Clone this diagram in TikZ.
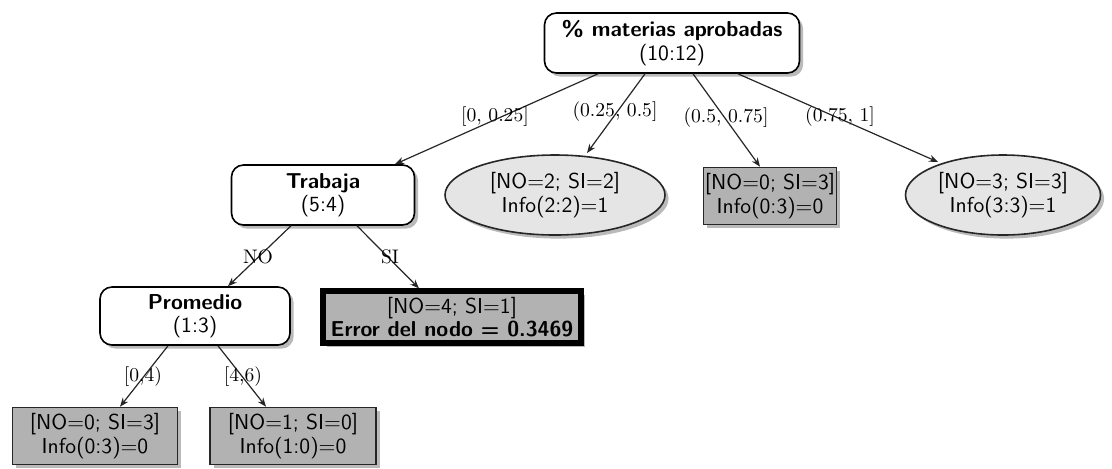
\documentclass[tikz,border=0pt]{standalone}
\usetikzlibrary{shapes.geometric,shadows,arrows.meta}
\begin{document}
\begin{tikzpicture}[x=0.5pt,y=-0.5pt,
  base/.style={align=center, inner sep=0pt, line width=0.8pt,
    font=\sffamily\fontsize{10.8}{11.6}\selectfont,
    drop shadow={shadow xshift=1.8pt, shadow yshift=-1.8pt, fill=black!45, opacity=0.6}},
  attr/.style={base, draw=black, fill=white, rounded corners=6pt},
  leafbox/.style={base, draw=black!85, fill=black!30, rectangle},
  leafoval/.style={base, draw=black!85, fill=black!10, ellipse},
  errbox/.style={base, draw=black, line width=2.6pt, fill=black!30, rectangle},
  link/.style={line width=0.6pt, draw=black!85, -{Stealth[length=4.5pt,width=3.5pt]}},
  lbl/.style={font=\fontsize{9.8}{11}\selectfont, inner sep=0pt}
]
\useasboundingbox (0,0) rectangle (1112,468);

% decision nodes
\node[attr, minimum width=127.5pt, minimum height=30pt] (root) at (672,43)
  {\textbf{\% materias aprobadas}\\(10:12)};
\node[attr, minimum width=91.5pt, minimum height=30pt] (trab) at (323,195)
  {\textbf{Trabaja}\\(5:4)};
\node[attr, minimum width=95pt, minimum height=29pt] (prom) at (195,316)
  {\textbf{Promedio}\\(1:3)};

% leaves
\node[leafoval, minimum width=110pt, minimum height=40pt] (e1) at (555,195)
  {[NO=2; SI=2]\\Info(2:2)=1};
\node[leafbox, minimum width=66.5pt, minimum height=28.5pt] (g1) at (770,196)
  {[NO=0; SI=3]\\Info(0:3)=0};
\node[leafoval, minimum width=97.5pt, minimum height=40pt] (e3) at (1003,195)
  {[NO=3; SI=3]\\Info(3:3)=1};
\node[errbox, minimum width=129pt, minimum height=26pt] (err) at (452,317)
  {[NO=4; SI=1]\\\textbf{Error del nodo = 0.3469}};
\node[leafbox, minimum width=82.5pt, minimum height=28.5pt] (bl) at (95,436)
  {[NO=0; SI=3]\\Info(0:3)=0};
\node[leafbox, minimum width=83pt, minimum height=28.5pt] (br) at (293,436)
  {[NO=1; SI=0]\\Info(1:0)=0};

% connectors
\draw[link] ([xshift=-37pt]root.south) -- ([xshift=36pt]trab.north);
\draw[link] ([xshift=-13.5pt]root.south) -- ([shift={(32,-42)}]e1.center);
\draw[link] ([xshift=10.5pt]root.south) -- ([xshift=-5pt]g1.north);
\draw[link] ([xshift=33pt]root.south) -- ([shift={(-65,-33)}]e3.center);
\draw[link] ([xshift=-16pt]trab.south) -- ([xshift=16.5pt]prom.north);
\draw[link] ([xshift=17pt]trab.south) -- ([xshift=-16.5pt]err.north);
\draw[link] ([xshift=-13.5pt]prom.south) -- ([xshift=12.5pt]bl.north);
\draw[link] ([xshift=11.5pt]prom.south) -- ([xshift=-13.5pt]br.north);

% branch labels
\node[lbl] (l1) at (495,117) {[0, 0.25]};
\node[lbl] (l2) at (615,112) {(0.25, 0.5]};
\node[lbl] (l3) at (726,118) {(0.5, 0.75]};
\node[lbl] (l4) at (840,117) {(0.75, 1]};
\node[lbl] (l5) at (258,257) {NO};
\node[lbl] (l6) at (390,257) {SI};
\node[lbl] (l7) at (143,377) {[0,4)};
\node[lbl] (l8) at (243,377) {[4,6)};
\end{tikzpicture}
\end{document}
